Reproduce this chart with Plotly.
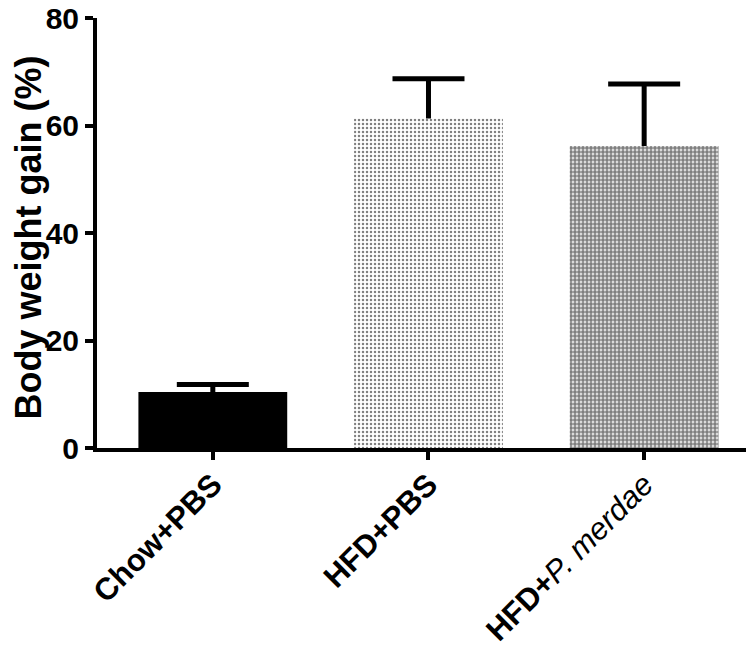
import plotly.graph_objects as go

categories = ["<b>Chow+PBS</b>", "<b>HFD+PBS</b>", "<b>HFD+</b><i>P. merdae</i>"]
means = [10.4, 61.3, 56.2]
sem = [1.4, 7.4, 11.5]
y_ticks = [0, 20, 40, 60, 80]
y_title = "<b>Body weight gain (%)</b>"

FONT = "Liberation Sans, Arial, sans-serif"
BAR_W = 0.69

fig = go.Figure()

# Error bars (upper only) on a transparent bar trace drawn underneath the visible bars,
# so the lower end of the error bar is hidden inside the bar.
fig.add_trace(go.Bar(
    x=categories, y=means, width=BAR_W,
    marker=dict(color="rgba(0,0,0,0)", line=dict(width=0)),
    error_y=dict(
        type="data", array=sem, arrayminus=[1.0, 1.0, 1.0], symmetric=False,
        color="black", thickness=5, width=36,
    ),
    hoverinfo="skip",
))

styles = [
    dict(color="black", pattern=None),
    dict(color="white", pattern=dict(shape=".", fgcolor="black", bgcolor="white",
                                     size=4, solidity=0.3, fillmode="overlay")),
    dict(color="white", pattern=dict(shape=".", fgcolor="black", bgcolor="white",
                                     size=4, solidity=0.72, fillmode="overlay")),
]
for cat, m, st in zip(categories, means, styles):
    marker = dict(color=st["color"], line=dict(width=0))
    if st["pattern"] is not None:
        marker["pattern"] = st["pattern"]
    fig.add_trace(go.Bar(x=[cat], y=[m], width=BAR_W, marker=marker))

# The page body has an 8px default margin, so the figure is sized to fit inside the window.
fig.update_layout(
    width=746, height=648,
    margin=dict(l=89, r=2, t=10, b=208),
    plot_bgcolor="white", paper_bgcolor="white",
    showlegend=False, barmode="overlay",
    font=dict(family=FONT, color="black"),
    annotations=[dict(
        text=y_title, textangle=-90, showarrow=False,
        xref="paper", yref="paper", x=-0.105, y=0.49,
        xanchor="center", yanchor="middle",
        font=dict(family=FONT, size=36, color="black"),
    )],
)
fig.update_xaxes(
    range=[-0.537, 2.5], automargin=False,
    showline=True, linecolor="black", linewidth=4,
    ticks="outside", ticklen=8, tickwidth=4, tickcolor="black",
    tickangle=-45, ticklabeloverflow="allow", ticklabelstandoff=-6,
    tickfont=dict(family=FONT, size=31, color="black"),
    showgrid=False, zeroline=False,
)
fig.update_yaxes(
    range=[0, 80], tickvals=y_ticks, automargin=False,
    showline=True, linecolor="black", linewidth=4,
    ticks="outside", ticklen=8, tickwidth=4, tickcolor="black",
    ticklabeloverflow="allow",
    tickfont=dict(family=FONT, size=30, color="black", weight="bold"),
    showgrid=False, zeroline=False,
)

fig.write_html("out.html")
